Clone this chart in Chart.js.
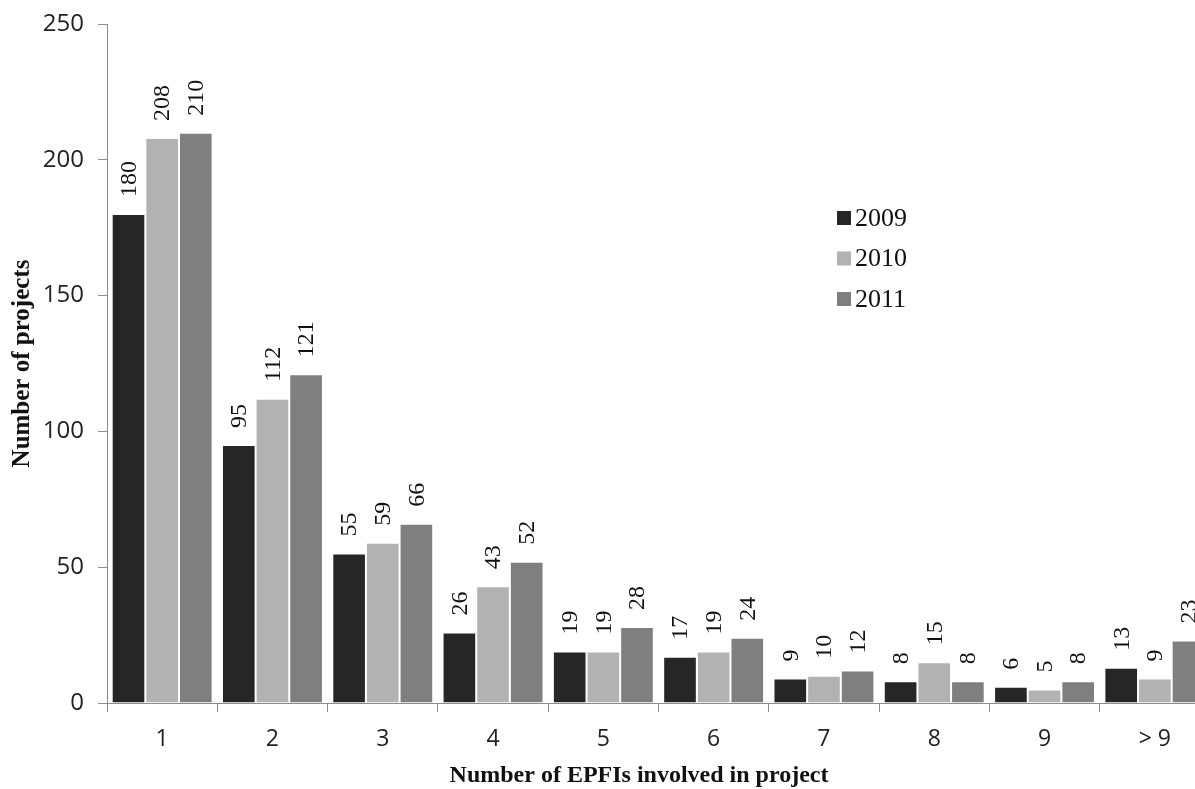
<!DOCTYPE html>
<html>
<head>
<meta charset="utf-8">
<script src="https://cdn.jsdelivr.net/npm/chart.js@4"></script>
<style>
  html, body { margin: 0; padding: 0; background: #fff; overflow: hidden; }
  #wrap { width: 1215px; height: 789px; }
</style>
</head>
<body>
<div id="wrap"><canvas id="myChart" width="1215" height="789"></canvas></div>
<script>
// categories (number of EPFIs) and yearly project counts
const categories = ['1', '2', '3', '4', '5', '6', '7', '8', '9', '> 9'];
const years = ['2009', '2010', '2011'];
const data2009 = [180, 95, 55, 26, 19, 17, 9, 8, 6, 13];
const data2010 = [208, 112, 59, 43, 19, 19, 10, 15, 5, 9];
const data2011 = [210, 121, 66, 52, 28, 24, 12, 8, 8, 23];
const yTicks = [0, 50, 100, 150, 200, 250];

const colors = ['#262626', '#b2b2b2', '#7f7f7f'];

// draws the rotated value labels above each bar
const barLabels = {
  id: 'barLabels',
  afterDatasetsDraw(chart) {
    const ctx = chart.ctx;
    ctx.save();
    ctx.font = '24px "Liberation Serif", "Times New Roman", serif';
    ctx.fillStyle = '#111';
    ctx.textAlign = 'left';
    ctx.textBaseline = 'middle';
    chart.data.datasets.forEach((ds, i) => {
      chart.getDatasetMeta(i).data.forEach((bar, j) => {
        ctx.save();
        ctx.translate(bar.x, bar.y - 17);
        ctx.rotate(-Math.PI / 2);
        ctx.fillText(String(ds.data[j]), 0, 1);
        ctx.restore();
      });
    });
    ctx.restore();
  }
};

// legend and x axis title placed like the original
const extras = {
  id: 'extras',
  afterDraw(chart) {
    const ctx = chart.ctx;
    ctx.save();
    ctx.font = '26px "Liberation Serif", "Times New Roman", serif';
    ctx.textBaseline = 'middle';
    ctx.textAlign = 'left';
    years.forEach((y, i) => {
      const cy = 218 + i * 40.5;
      ctx.fillStyle = colors[i];
      ctx.fillRect(837, cy - 7, 14, 14);
      ctx.fillStyle = '#111';
      ctx.fillText(y, 855, cy + 1);
    });
    ctx.font = 'bold 24px "Liberation Serif", "Times New Roman", serif';
    ctx.textAlign = 'center';
    ctx.fillText('Number of EPFIs involved in project', 639, 776);
    ctx.restore();
  }
};

const ctx = document.getElementById('myChart');

new Chart(ctx, {
  type: 'bar',
  data: {
    labels: categories,
    datasets: years.map((y, i) => ({
      label: y,
      data: [data2009, data2010, data2011][i],
      backgroundColor: colors[i],
      borderColor: 'rgba(255,255,255,0.45)',
      borderWidth: 1,
      categoryPercentage: 0.915,
      barPercentage: 1.0
    }))
  },
  options: {
    responsive: false,
    animation: false,
    layout: { padding: { top: 24, right: 5, bottom: 0, left: 0 } },
    plugins: {
      legend: { display: false },
      tooltip: { enabled: false }
    },
    scales: {
      x: {
        offset: true,
        grid: {
          offset: true,
          drawOnChartArea: false,
          drawTicks: true,
          tickLength: 9,
          color: '#8c8c8c'
        },
        border: { color: '#8c8c8c', width: 1 },
        ticks: {
          color: '#222',
          font: { family: '"Open Sans", sans-serif', size: 23 },
          padding: 14
        },
        afterFit(scale) { scale.height = 86; }
      },
      y: {
        min: 0,
        max: 250,
        afterBuildTicks(scale) { scale.ticks = yTicks.map(v => ({ value: v })); },
        grid: {
          drawOnChartArea: false,
          drawTicks: true,
          tickLength: 9,
          color: '#8c8c8c'
        },
        border: { color: '#8c8c8c', width: 1 },
        ticks: {
          color: '#222',
          font: { family: '"Open Sans", sans-serif', size: 24 },
          padding: 14
        },
        title: {
          display: true,
          text: 'Number of projects',
          color: '#111',
          font: { family: '"Liberation Serif", "Times New Roman", serif', size: 25, weight: 'bold' },
          padding: { top: 8, bottom: 0 }
        },
        afterFit(scale) {
          scale.width = 107;
          scale.paddingTop = 0;
          scale.paddingBottom = 0;
        }
      }
    }
  },
  plugins: [barLabels, extras]
});
</script>
</body>
</html>
